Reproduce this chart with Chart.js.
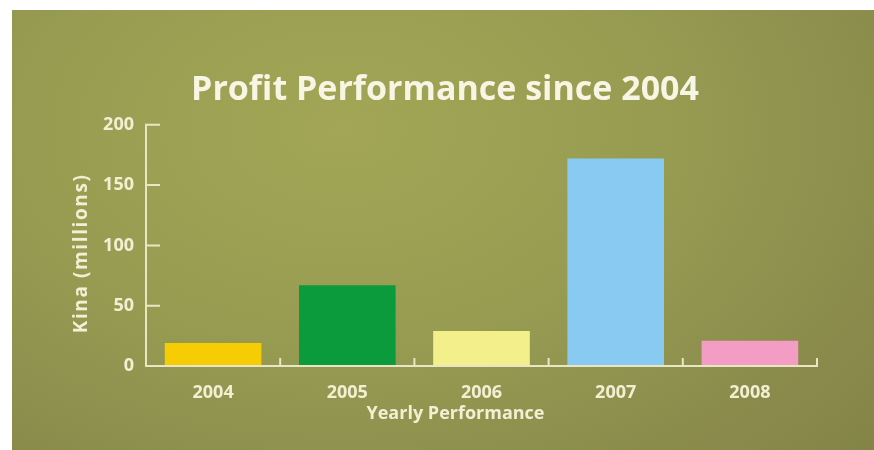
<!DOCTYPE html>
<html>
<head>
<meta charset="utf-8">
<script src="https://cdn.jsdelivr.net/npm/chart.js@4.4.1/dist/chart.umd.min.js"></script>
<style>
  html, body { margin: 0; padding: 0; background: #7d7c44; overflow: hidden; }
  #wrap { position: relative; width: 874px; height: 450px; overflow: hidden; background: #ffffff; }
  #panel {
    position: absolute; left: 12px; top: 10px; right: -20px; bottom: -20px;
    background: radial-gradient(ellipse 900px 600px at 330px 120px, #a2a655 0%, #979c52 35%, #8a8b4b 65%, #7b7a43 100%);
  }
  #profitChart { position: absolute; left: 0; top: 0; }
</style>
</head>
<body>
<div id="wrap">
  <div id="panel"></div>
  <canvas id="profitChart" width="874" height="450"></canvas>
</div>
<script>
// ============ DATA ============
const years = ["2004", "2005", "2006", "2007", "2008"];
const profit = [19, 67, 29, 172, 21];          // Kina (millions)
const barColors = ["#f6cd04", "#0b9b3c", "#f3f08b", "#89caf2", "#f39cc4"];
const yTicks = [0, 50, 100, 150, 200];

const cream = "#f2efd3";
const lineCream = "#e9e6c6";
const fontFamily = "'Open Sans', 'DejaVu Sans', sans-serif";

// ============ AXIS DRAWING ============
// axis lines with short inward ticks, plus both axis captions
const axisMarks = {
    id: "axisMarks",
    afterDatasetsDraw(chart) {
        const {ctx, chartArea, scales: {x, y}} = chart;
        const zero = y.getPixelForValue(0);
        const step = x.getPixelForValue(1) - x.getPixelForValue(0);
        const right = x.getPixelForValue(years.length - 1) + step / 2;

        ctx.save();
        ctx.strokeStyle = lineCream;
        ctx.lineWidth = 2;
        ctx.lineCap = "butt";

        // y axis
        ctx.beginPath();
        ctx.moveTo(chartArea.left, y.getPixelForValue(200) - 1);
        ctx.lineTo(chartArea.left, zero + 1);
        yTicks.slice(1).forEach(v => {
            const py = y.getPixelForValue(v);
            ctx.moveTo(chartArea.left, py);
            ctx.lineTo(chartArea.left + 14, py);
        });
        ctx.stroke();

        // x axis with boundary ticks
        ctx.beginPath();
        ctx.moveTo(chartArea.left, zero);
        ctx.lineTo(right, zero);
        for (let i = 0; i < years.length; i++) {
            const px = x.getPixelForValue(i) + step / 2;
            ctx.moveTo(px, zero + 1);
            ctx.lineTo(px, zero - 8);
        }
        ctx.stroke();

        // axis captions
        ctx.fillStyle = cream;
        ctx.textAlign = "center";
        ctx.textBaseline = "middle";
        ctx.font = "bold 18px " + fontFamily;
        ctx.fillText("Yearly Performance", (chartArea.left + chartArea.right) / 2 - 26, 414);

        ctx.translate(y.left + 9, (chartArea.top + chartArea.bottom) / 2 + 8);
        ctx.rotate(-Math.PI / 2);
        ctx.font = "bold 19px " + fontFamily;
        ctx.letterSpacing = "1.6px";
        ctx.fillText("Kina (millions)", 0, 0);
        ctx.restore();
    }
};

const ctx = document.getElementById("profitChart").getContext("2d");

new Chart(ctx, {
    type: "bar",
    data: {
        labels: years,
        datasets: [{
            label: "Profit",
            data: profit,
            backgroundColor: barColors,
            borderWidth: 0,
            categoryPercentage: 1,
            barPercentage: 0.72
        }]
    },
    options: {
        responsive: false,
        animation: false,
        layout: {
            padding: {top: 0, left: 73, right: 57, bottom: 0}
        },
        plugins: {
            legend: {display: false},
            tooltip: {enabled: false},
            title: {
                display: true,
                text: "Profit Performance since 2004",
                color: "#f7f5e4",
                font: {family: fontFamily, size: 34, weight: "bold"},
                padding: {top: 70, bottom: 14}
            }
        },
        scales: {
            x: {
                grid: {display: false},
                border: {display: false},
                ticks: {
                    color: cream,
                    font: {family: fontFamily, size: 18, weight: "bold"},
                    padding: 8
                },
                afterFit: scale => { scale.height = 84; }
            },
            y: {
                min: 0,
                max: 200,
                grid: {display: false},
                border: {display: false},
                afterBuildTicks: scale => {
                    scale.ticks = yTicks.map(v => ({value: v}));
                },
                ticks: {
                    color: cream,
                    font: {family: fontFamily, size: 18, weight: "bold"},
                    padding: 4
                },
                afterFit: scale => { scale.width = 73; }
            }
        }
    },
    plugins: [axisMarks]
});
</script>
</body>
</html>
